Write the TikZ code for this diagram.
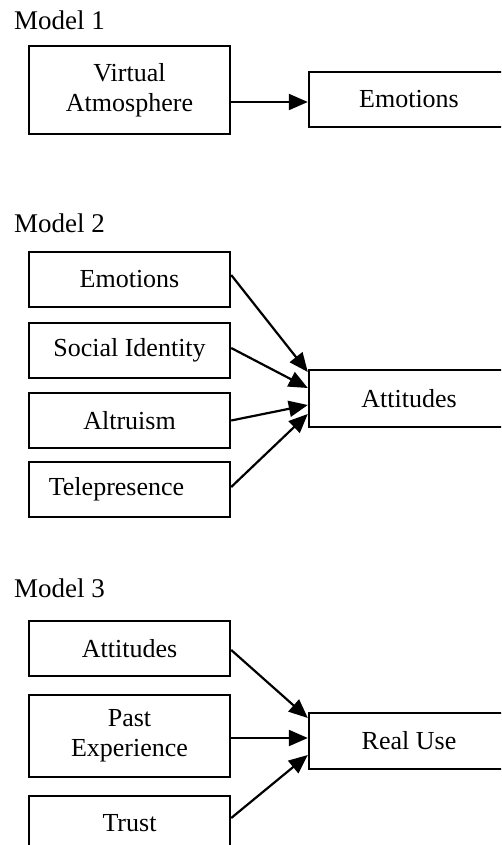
\documentclass[tikz,border=0pt]{standalone}
\usepackage{fontspec}
\setmainfont{Liberation Serif}
\usetikzlibrary{arrows.meta}
\begin{document}
\begin{tikzpicture}[x=1pt,y=-1pt,
  box/.style={draw=black, line width=2.4pt, fill=white, minimum width=201pt, minimum height=55pt, inner sep=0pt, align=center, font=\fontsize{26}{30}\selectfont},
  rbox/.style={box, minimum width=200pt},
  title/.style={anchor=base west, inner sep=0pt, font=\fontsize{27}{30}\selectfont},
  arr/.style={line width=2.2pt, -{Triangle[length=19pt,width=16pt]}}]
\useasboundingbox (0,0) rectangle (501,845);
\clip (0,0) rectangle (501,845);
\fill[white] (0,0) rectangle (501,845);

% Model 1
\node[title] (t1) at (14,30) {Model 1};
\node[box, minimum height=88pt] (va) at (129.5,90) {Virtual\\Atmosphere};
\node[rbox] (em1) at (409,99.5) {Emotions};
\draw[arr] ([yshift=-12pt]va.east) -- ([yshift=-12pt]va.east -| em1.west);

% Model 2
\node[title] (t2) at (14,232) {Model 2};
\node[box] (e2) at (129.5,279.5) {Emotions};
\node[box] (si) at (129.5,350.5) {Social Identity};
\node[box] (al) at (129.5,420.5) {Altruism};
\node[box] (tp) at (129.5,489.5) {Telepresence\hspace*{26pt}};
\node[rbox, minimum height=57pt] (at2) at (409,398.5) {Attitudes};
\draw[arr] ([yshift=4.5pt]e2.east) -- ([yshift=26.5pt]at2.west);
\draw[arr] ([yshift=2.5pt]si.east) -- ([yshift=10.5pt]at2.west);
\draw[arr] (al.east) -- ([yshift=-6.5pt]at2.west);
\draw[arr] ([yshift=2.5pt]tp.east) -- ([yshift=-15.5pt]at2.west);

% Model 3
\node[title] (t3) at (14,597) {Model 3};
\node[box] (at3) at (129.5,648.5) {Attitudes};
\node[box, minimum height=82pt] (pe) at (129.5,736) {Past\\Experience};
\node[box] (tr) at (129.5,823.5) {Trust};
\node[rbox, minimum height=56pt] (ru) at (409,741) {Real Use};
\draw[arr] ([yshift=-1.5pt]at3.east) -- ([yshift=23pt]ru.west);
\draw[arr] ([yshift=-2pt]pe.east) -- ([yshift=-2pt]pe.east -| ru.west);
\draw[arr] ([yshift=5.5pt]tr.east) -- ([yshift=-14pt]ru.west);
\end{tikzpicture}
\end{document}
